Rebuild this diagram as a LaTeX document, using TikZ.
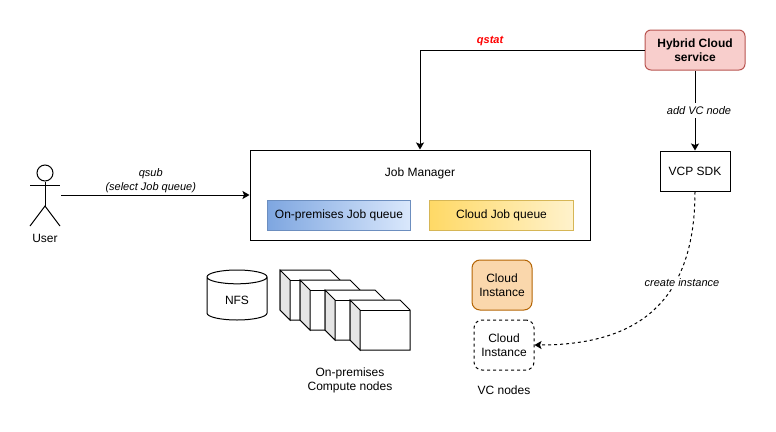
\documentclass[tikz,border=0pt]{standalone}
\usepackage{fontspec}
\setmainfont{Liberation Sans}
\usetikzlibrary{positioning,arrows.meta,calc,shapes.geometric}

\definecolor{hybridfill}{HTML}{F8CECC}
\definecolor{hybridline}{HTML}{B85450}
\definecolor{instfill}{HTML}{FAD7AC}
\definecolor{instline}{HTML}{B46504}
\definecolor{premleft}{HTML}{7EA6E0}
\definecolor{premright}{HTML}{DAE8FC}
\definecolor{premline}{HTML}{6C8EBF}
\definecolor{cloudleft}{HTML}{FFD966}
\definecolor{cloudright}{HTML}{FFF2CC}
\definecolor{cloudline}{HTML}{D6B656}

\begin{document}
\begin{tikzpicture}[x=1pt, y=-1pt, >={Stealth[length=7pt,width=8pt,inset=1.5pt]}, line width=1pt,
  font=\fontsize{12}{14}\selectfont,
  lbl/.style={font=\fontsize{11}{14}\selectfont\itshape, align=center},
  box/.style={draw, minimum width=70pt, minimum height=40pt, align=center},
  queue/.style={draw, minimum width=143.5pt, minimum height=30pt},
  inst/.style={draw, rounded corners=8pt, minimum width=60pt, minimum height=50pt, align=center},
  computenode/.pic={
    \draw[fill=white] (0,0) -- (50,0) -- (60,10) -- (60,50) -- (10,50) -- (0,40) -- cycle;
    \draw[fill=black!10] (0,0) -- (10,10) -- (10,50) -- (0,40) -- cycle;
    \draw (10,10) -- (60,10);
  }]
  \useasboundingbox (0,0) rectangle (776,431);

  \node[box, minimum width=340pt, minimum height=90pt] (jobman) at (420,195) {};
  \node at (420,173) (jobtitle) {Job Manager};
  \node[queue, left color=premleft, right color=premright, draw=premline] (onprem) at (339,215) {On-premises Job queue};
  \node[queue, left color=cloudleft, right color=cloudright, draw=cloudline, right=18pt of onprem] (cloudq) {Cloud Job queue};

  \node[box, rounded corners=6pt, minimum width=100pt, fill=hybridfill, draw=hybridline,
    font=\fontsize{12}{14}\selectfont\bfseries] (hybrid) at (695,50) {Hybrid Cloud\\service};
  \node[box, below=80pt of hybrid] (sdk) {VCP SDK};

  % user
  \node[draw, circle, minimum size=16pt, inner sep=0pt] (head) at (45,173) {};
  \coordinate (hip) at (45,206);
  \coordinate (userout) at (61,195);
  \draw (head.south) -- (hip);
  \draw (30,185) -- (60,185);
  \draw (30,226) -- (hip) -- (60,226);
  \node (user) at (45,238) {User};
  \draw[->] (userout) -- node[lbl, above, xshift=-4.5pt, yshift=-1.5pt] (qsub) {qsub\\[0pt](select Job queue)} (jobman.west);

  \draw[->] (hybrid.west) -| node[pos=.344, above, lbl, text=red, font=\fontsize{11}{14}\selectfont\bfseries\itshape] (qstat) {qstat} (jobman.north);
  \draw[->] (hybrid) -- node[lbl, fill=white, xshift=4pt, inner xsep=1pt] (addvc) {add VC node} (sdk);

  % storage and compute
  \node[draw, cylinder, shape border rotate=90, aspect=.45, minimum width=60pt, minimum height=50pt, anchor=shape center] (nfs) at (237,295) {NFS};
  \pic at (280,270) {computenode};
  \pic at (300,280) {computenode};
  \pic at (325,290) {computenode};
  \pic at (350,300) {computenode};
  \node[align=center] (computelbl) at (350,380) {On-premises\\Compute nodes};

  % vc nodes
  \node[inst, fill=instfill, draw=instline] (cloudinst) at (502,285) {Cloud\\Instance};
  \node[inst, dashed] (vcinst) at (504,345) {Cloud\\Instance};
  \node (vclbl) at (504,390) {VC nodes};
  \draw[->, dashed] (sdk.south) .. controls (695,300) and (640,345) .. node[pos=.35, lbl, fill=white, inner sep=1pt, xshift=7pt] (create) {create instance} (vcinst.east);
\end{tikzpicture}
\end{document}
